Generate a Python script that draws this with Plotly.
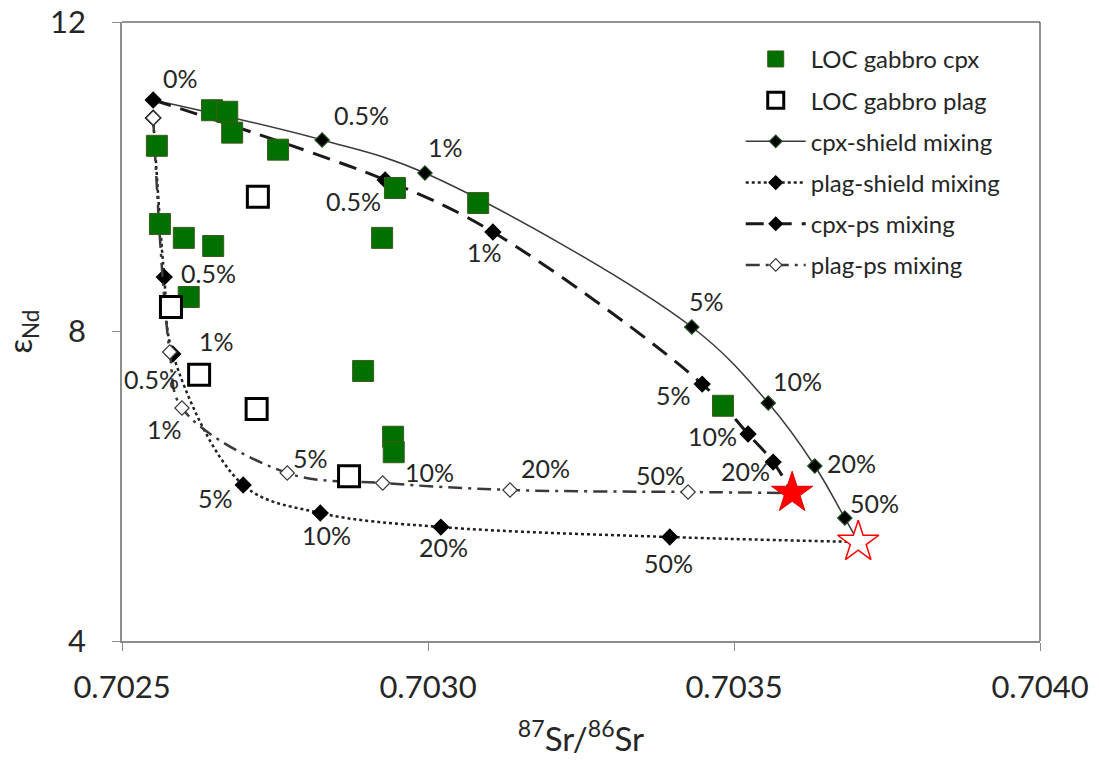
import plotly.graph_objects as go

# ---- LOC gabbro mineral separates ----
cpx_sr = [0.702647, 0.702672, 0.702680, 0.702557, 0.702755, 0.702946, 0.703082, 0.702562,
          0.702601, 0.702649, 0.702925, 0.702609, 0.702894, 0.702943, 0.702944, 0.703482]
cpx_nd = [10.86, 10.84, 10.57, 10.40, 10.35, 9.855, 9.66, 9.39,
          9.21, 9.105, 9.21, 8.446, 7.49, 6.64, 6.44, 7.04]

plag_sr = [0.702722, 0.702580, 0.702626, 0.702720, 0.702871]
plag_nd = [9.74, 8.317, 7.44, 7.00, 6.13]

# ---- end members ----
shield_sr, shield_nd = 0.703703, 5.28
ps_sr, ps_nd = 0.703595, 5.913

# ---- mixing curves (last point = end member) ----
cpx_shield_sr = [0.702551, 0.702827, 0.702995, 0.703431, 0.703556, 0.703632, 0.703681, shield_sr]
cpx_shield_nd = [10.992, 10.475, 10.048, 8.058, 7.076, 6.262, 5.590, shield_nd]
cpx_shield_pct = ["0%", "0.5%", "1%", "5%", "10%", "20%", "50%", ""]

plag_shield_sr = [0.702551, 0.702569, 0.702583, 0.702698, 0.702824, 0.703021, 0.703395, shield_sr]
plag_shield_nd = [10.76, 8.704, 7.709, 6.016, 5.654, 5.473, 5.344, shield_nd]
plag_shield_pct = ["", "0.5%", "1%", "5%", "10%", "20%", "50%", ""]

cpx_ps_sr = [0.702551, 0.702930, 0.703106, 0.703448, 0.703523, 0.703564, ps_sr]
cpx_ps_nd = [10.992, 9.958, 9.286, 7.321, 6.675, 6.313, ps_nd]
cpx_ps_pct = ["", "0.5%", "1%", "5%", "10%", "20%", ""]

plag_ps_sr = [0.702551, 0.702578, 0.702598, 0.702770, 0.702926, 0.703134, 0.703425, ps_sr]
plag_ps_nd = [10.76, 7.735, 7.011, 6.171, 6.042, 5.952, 5.926, ps_nd]
plag_ps_pct = ["", "0.5%", "1%", "5%", "10%", "20%", "50%", ""]

x_ticks = [0.7025, 0.7030, 0.7035, 0.7040]
x_tick_text = ["0.7025", "0.7030", "0.7035", "0.7040"]
y_ticks = [4, 8, 12]

FONT = "Lato"
TXT = "#262626"

# label placement offsets (pixels) relative to each curve marker
cpx_shield_off = [(27, 22), (39, 25), (21, 26), (15, 26), (29, 22), (37, 3), (30, 15), None]
plag_shield_off = [None, (44, 4), (44, 13), (-28, -13), (6, -22), (3, -20), (-1, -26), None]
cpx_ps_off = [None, (-32, -21), (-8, -20), (-29, -11), (-36, -2), (-28, -9), None]
plag_ps_off = [None, (-18, -27), (-17, -21), (23, 15), (47, 11), (35, 22), (-28, 17), None]

fig = go.Figure()

def curve(name, xs, ys, dash, lw, lcolor, msym, mfill, mline, msize, rank):
    n = len(xs)
    fig.add_trace(go.Scatter(
        x=xs, y=ys, mode="lines+markers", name=name,
        legendgroup=name, legendrank=rank,
        line=dict(color=lcolor, width=lw, dash=dash, shape="spline", smoothing=1.0),
        marker=dict(symbol=msym, size=[msize] * (n - 1) + [0], color=mfill, opacity=1,
                    line=dict(color=mline, width=1.2)),
    ))

curve("cpx-shield mixing", cpx_shield_sr, cpx_shield_nd, "solid", 1.5, "#3a3a3a",
      "diamond", "#000000", "#1e4d1e", 11, 3)
curve("plag-shield mixing", plag_shield_sr, plag_shield_nd, "dot", 2.5, "#202020",
      "diamond", "#000000", "#000000", 12, 4)
curve("cpx-ps mixing", cpx_ps_sr, cpx_ps_nd, "18px,10px", 3, "#1a1a1a",
      "diamond", "#000000", "#000000", 12, 5)
curve("plag-ps mixing", plag_ps_sr, plag_ps_nd, "14px,6px,3px,6px", 2.5, "#3a3a3a",
      "diamond", "#ffffff", "#3a3a3a", 11, 6)

fig.add_trace(go.Scatter(
    x=cpx_sr, y=cpx_nd, mode="markers", name="LOC gabbro cpx",
    legendgroup="cpx", legendrank=1,
    marker=dict(symbol="square", size=21, color="#007000", line=dict(color="#3d5a1e", width=1)),
))
fig.add_trace(go.Scatter(
    x=plag_sr, y=plag_nd, mode="markers", name="LOC gabbro plag",
    legendgroup="plag", legendrank=2,
    marker=dict(symbol="square", size=21, color="#ffffff", line=dict(color="#000000", width=3)),
))

# end members
fig.add_trace(go.Scatter(
    x=[ps_sr], y=[ps_nd], mode="markers", showlegend=False,
    marker=dict(symbol="star", size=31, color="#ff0000", line=dict(color="#e00000", width=1)),
))
fig.add_trace(go.Scatter(
    x=[shield_sr], y=[shield_nd], mode="markers", showlegend=False,
    marker=dict(symbol="star", size=31, color="#ffffff", line=dict(color="#ff0000", width=1.5)),
))

# percentage labels
for xs, ys, labs, offs in [
    (cpx_shield_sr, cpx_shield_nd, cpx_shield_pct, cpx_shield_off),
    (plag_shield_sr, plag_shield_nd, plag_shield_pct, plag_shield_off),
    (cpx_ps_sr, cpx_ps_nd, cpx_ps_pct, cpx_ps_off),
    (plag_ps_sr, plag_ps_nd, plag_ps_pct, plag_ps_off),
]:
    for x, y, t, o in zip(xs, ys, labs, offs):
        if not t or o is None:
            continue
        fig.add_annotation(x=x, y=y, text=t, showarrow=False, xshift=o[0], yshift=o[1],
                           font=dict(family=FONT, size=25, color=TXT))

# frame: dark top/right edges
fig.add_shape(type="line", xref="paper", yref="paper", x0=0, x1=1, y0=1, y1=1,
              line=dict(color="#262626", width=1))
fig.add_shape(type="line", xref="paper", yref="paper", x0=1, x1=1, y0=0, y1=1,
              line=dict(color="#262626", width=1))

fig.update_layout(
    width=1099, height=761,
    margin=dict(l=122, r=59, t=22, b=120, autoexpand=False),
    paper_bgcolor="white", plot_bgcolor="white",
    font=dict(family=FONT, color=TXT),
    legend=dict(x=0.674, y=0.976, xanchor="left", yanchor="top",
                font=dict(family=FONT, size=24, color=TXT),
                tracegroupgap=7, itemwidth=60, bgcolor="rgba(0,0,0,0)"),
    xaxis=dict(range=[0.7025, 0.7040], tickvals=x_ticks, ticktext=x_tick_text, automargin=False,
               showgrid=False, zeroline=False, showline=True, linecolor="#8c8c8c", linewidth=1.5,
               ticks="outside", ticklen=8, tickcolor="#8c8c8c", ticklabelstandoff=10,
               tickfont=dict(family=FONT, size=31, color=TXT),
               title=dict(text="<sup>87</sup>Sr/<sup>86</sup>Sr", standoff=24,
                          font=dict(family=FONT, size=33, color=TXT))),
    yaxis=dict(range=[4, 12], tickvals=y_ticks, automargin=False,
               showgrid=False, zeroline=False, showline=True, linecolor="#8c8c8c", linewidth=1.5,
               ticks="outside", ticklen=8, tickcolor="#8c8c8c", ticklabelstandoff=20,
               tickfont=dict(family=FONT, size=31, color=TXT),
               title=dict(text="ε<sub>Nd</sub>", standoff=22,
                          font=dict(family=FONT, size=32, color=TXT))),
)

fig.write_html("out.html")
